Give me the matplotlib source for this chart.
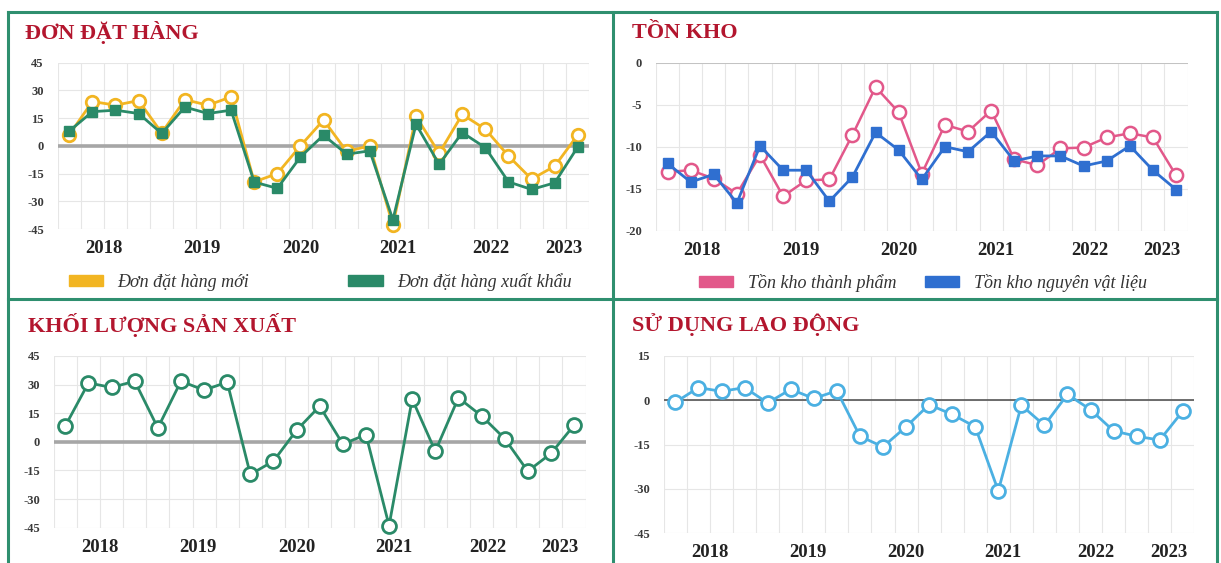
import matplotlib
matplotlib.use('Agg')
import matplotlib.pyplot as plt
from matplotlib.patches import Patch
from matplotlib.lines import Line2D

# quarterly survey values, 23 points per series
n_points = 23
year_labels = ['2018', '2019', '2020', '2021', '2022', '2023']
year_pos = [1.5, 5.75, 10, 14.2, 18.25, 21.4]

don_hang_moi = [6, 24, 22, 24.5, 7, 25, 22, 26.5, -19.5, -15, 0, 14, -3, 0,
                -43, 16, -4, 17, 9, -5.5, -18, -11, 6]
don_hang_xk = [8, 18.5, 19.3, 17.5, 6.7, 21, 17.5, 19.3, -19.6, -23, -6, 5.8,
               -4.5, -2.7, -40, 11.7, -10, 7.2, -1, -19.5, -23.6, -20, -0.5]

ton_kho_tp = [-13.0, -12.8, -13.8, -15.6, -11.0, -15.9, -14.0, -13.9, -8.6, -2.9,
              -5.9, -13.2, -7.4, -8.2, -5.7, -11.5, -12.2, -10.2, -10.1, -8.9,
              -8.4, -8.9, -13.4]
ton_kho_nvl = [-12.0, -14.2, -13.3, -16.7, -9.9, -12.8, -12.8, -16.5, -13.6, -8.3,
               -10.4, -13.9, -10.0, -10.6, -8.2, -11.7, -11.1, -11.1, -12.3, -11.7,
               -9.9, -12.8, -15.1]

khoi_luong_sx = [8.4, 30.9, 28.5, 31.8, 7.3, 31.8, 27.1, 31.3, -17.1, -10.1, 6.1,
                 18.7, -1.2, 3.8, -43.9, 22.4, -4.9, 23.1, 13.6, 1.7, -15.4, -6.1, 8.7]

lao_dong = [-0.7, 4.3, 3.0, 4.3, -0.9, 3.7, 0.6, 3.2, -12.2, -15.8, -9.0, -1.5,
            -4.8, -9.0, -30.7, -1.7, -8.5, 2.0, -3.2, -10.4, -12.2, -13.5, -3.7]

W, H = 1221, 563
RED = '#b3162e'
BORDER = '#2f8f6f'
YELLOW = '#f2b522'
GREEN = '#2a8a68'
PINK = '#e2588a'
BLUE = '#2f6fd0'
LBLUE = '#4bb0e2'
SERIF = ['Liberation Serif', 'DejaVu Serif']

fig = plt.figure(figsize=(W / 100, H / 100), dpi=100)
fig.patch.set_facecolor('white')


def px_axes(left, top, right, bottom):
    return fig.add_axes([left / W, 1 - bottom / H, (right - left) / W, (bottom - top) / H])


def style_axes(ax, ylim, yticks, zero_style):
    x = list(range(n_points))
    ax.set_xlim(-0.5, n_points - 0.5)
    ax.set_ylim(*ylim)
    ax.set_yticks(yticks)
    ax.set_yticklabels([str(t) for t in yticks], fontfamily=SERIF, fontweight='bold',
                       fontsize=9, color='#3a3a3a')
    ax.set_xticks(year_pos)
    ax.set_xticklabels(year_labels, fontfamily=SERIF, fontweight='bold',
                       fontsize=13.5, color='#222222')
    ax.tick_params(axis='both', length=0)
    ax.tick_params(axis='y', pad=10)
    ax.tick_params(axis='x', pad=8)
    for s in ax.spines.values():
        s.set_visible(False)
    # light grid
    for xv in [i - 0.5 for i in range(n_points + 1)]:
        ax.axvline(xv, color='#e6e6e6', lw=0.8, zorder=0)
    for yv in yticks:
        ax.axhline(yv, color='#e6e6e6', lw=0.8, zorder=0)
    if zero_style is not None:
        ax.axhline(0, zorder=1, **zero_style)
    return x


def title(xpx, ypx, text):
    fig.text(xpx / W, 1 - ypx / H, text, fontfamily=SERIF, fontweight='bold',
             fontsize=16, color=RED, va='center', ha='left')


thick_zero = dict(color='#a6a6a6', lw=2.6)

# ---- Đơn đặt hàng
ax1 = px_axes(57.7, 62.7, 589.4, 229)
x = style_axes(ax1, (-45, 45), [45, 30, 15, 0, -15, -30, -45], thick_zero)
ax1.plot(x, don_hang_moi, color=YELLOW, lw=2, marker='o', ms=9, mfc='white',
         mec=YELLOW, mew=2, clip_on=False, zorder=3)
ax1.plot(x, don_hang_xk, color=GREEN, lw=2, marker='s', ms=6.5, mfc=GREEN,
         mec=GREEN, clip_on=False, zorder=4)
title(25, 33, 'ĐƠN ĐẶT HÀNG')
leg1 = ax1.legend(handles=[Patch(color=YELLOW, label='Đơn đặt hàng mới'),
                           Patch(color=GREEN, label='Đơn đặt hàng xuất khẩu')],
                  loc='center left', bbox_to_anchor=(-0.01, -0.32), ncol=2, frameon=False,
                  handlelength=1.9, handleheight=0.55, columnspacing=5.5,
                  prop=dict(family=SERIF, style='italic', size=13))
for t in leg1.get_texts():
    t.set_color('#333333')

# ---- Tồn kho
ax2 = px_axes(656, 62.7, 1187.6, 230.7)
x = style_axes(ax2, (-20, 0), [0, -5, -10, -15, -20], dict(color='#bdbdbd', lw=1.2))
ax2.plot(x, ton_kho_tp, color=PINK, lw=1.8, marker='o', ms=9.5, mfc='white',
         mec=PINK, mew=1.8, clip_on=False, zorder=3)
ax2.plot(x, ton_kho_nvl, color=BLUE, lw=2, marker='s', ms=6.5, mfc=BLUE,
         mec=BLUE, clip_on=False, zorder=4)
title(632, 33, 'TỒN KHO')
leg2 = ax2.legend(handles=[Patch(color=PINK, label='Tồn kho thành phẩm'),
                           Patch(color=BLUE, label='Tồn kho nguyên vật liệu')],
                  loc='center left', bbox_to_anchor=(0.05, -0.31), ncol=2, frameon=False,
                  handlelength=1.9, handleheight=0.55, columnspacing=1.6,
                  prop=dict(family=SERIF, style='italic', size=13))
for t in leg2.get_texts():
    t.set_color('#333333')

# ---- Khối lượng sản xuất
ax3 = px_axes(53.8, 356, 585.6, 527.7)
x = style_axes(ax3, (-45, 45), [45, 30, 15, 0, -15, -30, -45], thick_zero)
ax3.plot(x, khoi_luong_sx, color=GREEN, lw=2, marker='o', ms=10, mfc='white',
         mec=GREEN, mew=2, clip_on=False, zorder=3)
title(28, 325, 'KHỐI LƯỢNG SẢN XUẤT')

# ---- Sử dụng lao động
ax4 = px_axes(663.9, 356, 1194.3, 533)
x = style_axes(ax4, (-45, 15), [15, 0, -15, -30, -45], dict(color='#555555', lw=1.2))
ax4.plot(x, lao_dong, color=LBLUE, lw=2, marker='o', ms=10, mfc='white',
         mec=LBLUE, mew=2, clip_on=False, zorder=3)
title(632, 325, 'SỬ DỤNG LAO ĐỘNG')

# ---- green frame around the panels
frame = dict(color=BORDER, lw=2.2, transform=fig.transFigure, clip_on=False)
for xs, ys in [([8, 1217], [12, 12]), ([8, 8], [12, 563]), ([1217, 1217], [12, 563]),
               ([612.5, 612.5], [12, 563]), ([8, 1217], [299, 299])]:
    fig.add_artist(Line2D([v / W for v in xs], [1 - v / H for v in ys], **frame))

plt.savefig('out.png', dpi=100)
